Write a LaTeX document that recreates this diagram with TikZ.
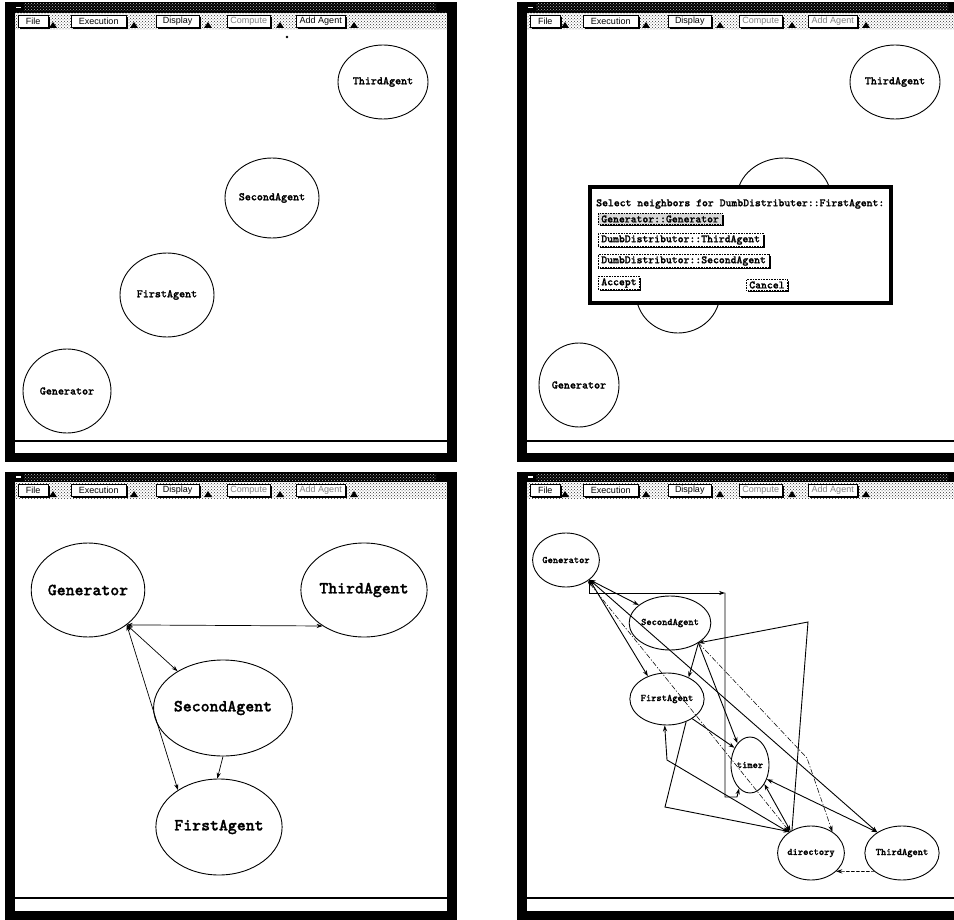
\documentclass[tikz,border=0pt]{standalone}
\usepackage{fontspec}
\setmainfont{Liberation Sans}
\newfontfamily\agentfont{lmmonolt10-bold.otf}[FakeBold=1.2]
\usetikzlibrary{patterns,arrows.meta,shapes.geometric,shadows}

\tikzset{
  >={Stealth[length=6pt,width=4.2pt]},
  agentnode/.style 2 args={draw, ellipse, line width=0.9pt, inner sep=0pt,
    minimum width=#1pt, minimum height=#2pt},
  link/.style={line width=0.7pt},
  heavylink/.style={line width=0.9pt},
  dashdot/.style={line width=0.55pt, dash pattern=on 5pt off 2pt on 1pt off 2pt},
  mbtn/.style={draw, line width=0.5pt, fill=white, inner sep=0pt, anchor=west,
    font=\fontsize{9}{10}\selectfont,
    drop shadow={shadow xshift=1.6pt, shadow yshift=-1.6pt, fill=black, opacity=1}},
  dbtn/.style={draw, densely dotted, line width=0.6pt, fill=white, anchor=west,
    inner xsep=3pt, inner ysep=2pt, font=\agentfont\fontsize{11.2}{12}\selectfont,
    drop shadow={shadow xshift=1.6pt, shadow yshift=-1.6pt, fill=black, opacity=1}},
}

% application window: #1 x offset, #2 frame top, #3 menu top, #4 canvas top,
% #5 status rule, #6 frame bottom, #7 colour of "Add Agent", #8 name prefix
\newcommand\guiwindow[8]{%
  \fill[black] (#1+5,#2) rectangle (#1+457,#6);
  \fill[pattern=crosshatch dots, pattern color=gray!55] (#1+24,#2+2) rectangle (#1+436,#3-2);
  \draw[white, line width=1.2pt] (#1+16,{(#2+#3)/2}) -- (#1+21,{(#2+#3)/2});
  \fill[white] (#1+15,#3) rectangle (#1+447,#4);
  \fill[pattern=crosshatch dots, pattern color=black!80] (#1+15,#3) rectangle (#1+447,#4);
  \fill[white] (#1+15,#4) rectangle (#1+447,#6-9);
  \draw[line width=1.1pt] (#1+15,#5) -- (#1+447,#5);
  \foreach \ix/\w/\lab/\col/\nm in {13/30/File/black/file, 66/55/Execution/black/exec,
      151/43/Display/black/disp, 222/43/Compute/gray/comp, 291/49/Add Agent/#7/add}{
    \node[mbtn, minimum width=\w pt, minimum height={(#4-#3-5)*1pt}, text=\col]
      (#8\nm) at (#1+5+\ix,{(#3+#4)/2}) {\lab};
  }
  \foreach \ix in {48,129,203,275,349}{
    \fill (#1+5+\ix-4,#4-2) -- (#1+5+\ix,#4-8) -- (#1+5+\ix+4,#4-2) -- cycle;
  }
}

\begin{document}
\begin{tikzpicture}[x=1pt,y=-1pt]
\useasboundingbox (0,0) rectangle (954,920);
\fill[white] (0,0) rectangle (954,920);

% ---------- four windows ----------
\guiwindow{0}{2}{13}{30}{441}{462}{black}{wa}
\guiwindow{512}{2}{13}{30}{441}{462}{gray}{wb}
\guiwindow{0}{472}{482}{499}{898}{920}{gray}{wc}
\guiwindow{512}{472}{482}{499}{898}{920}{gray}{wd}

% ---------- window A: agents placed ----------
\begin{scope}[every node/.append style={font=\agentfont\fontsize{11.5}{12}\selectfont}]
  \node[agentnode={90}{74}] (thiA) at (383,82) {ThirdAgent};
  \node[agentnode={94}{80}] (secA) at (272,198) {SecondAgent};
  \node[agentnode={94}{84}] (firA) at (167,295) {FirstAgent};
  \node[agentnode={88}{84}] (genA) at (67,391) {Generator};
\end{scope}
\fill (287,37) circle (1.4);

% ---------- window B: neighbour selection (dialog covers two agents) ----------
\begin{scope}[every node/.append style={font=\agentfont\fontsize{11.5}{12}\selectfont}]
  \node[agentnode={90}{74}] (thiB) at (895,82) {ThirdAgent};
  \node[agentnode={94}{80}] (secB) at (784,198) {};
  \node[agentnode={84}{80}] (firB) at (678,293) {};
  \node[agentnode={80}{84}] (genB) at (579,385) {Generator};
\end{scope}
\draw[line width=3.5pt, fill=white] (590,187) rectangle (891,303);
\node[anchor=west, inner sep=0pt, font=\agentfont\fontsize{11.2}{12}\selectfont]
  (dlgtitle) at (596,204) {Select neighbors for DumbDistributer::FirstAgent:};
\node[dbtn, fill=gray!30] (nbgen) at (598,219) {Generator::Generator};
\node[dbtn] (nbthird) at (598,240) {DumbDistributor::ThirdAgent};
\node[dbtn] (nbsecond) at (598,261) {DumbDistributor::SecondAgent};
\node[dbtn] (accept) at (598,283) {Accept};
\node[dbtn] (cancel) at (746,285) {Cancel};

% ---------- window C: first links ----------
\begin{scope}[every node/.append style={font=\agentfont\fontsize{17}{18}\selectfont}]
  \node[agentnode={104}{94}] (genC) at (88,590) {Generator};
  \node[agentnode={114}{94}] (thiC) at (364,590) {ThirdAgent};
  \node[agentnode={122}{96}] (secC) at (223,708) {SecondAgent};
  \node[agentnode={114}{96}] (firC) at (219,827) {FirstAgent};
\end{scope}
\draw[link,<->] (genC.-42) -- (thiC.-139);
\draw[link,<->] (genC.-42) -- (secC.141);
\draw[link,<->] (genC.-42) -- (firC.138);
\draw[link,->] (secC.-90) -- (firC.92);

% ---------- window D: full neighbourhood graph ----------
\begin{scope}[every node/.append style={font=\agentfont\fontsize{10}{11}\selectfont}]
  \node[agentnode={62}{54}] (genD) at (566,560) {Generator};
  \node[agentnode={74}{54}] (secD) at (670,623) {SecondAgent};
  \node[agentnode={68}{52}] (firD) at (667,699) {FirstAgent};
  \node[agentnode={38}{56}] (timD) at (750,765) {timer};
  \node[agentnode={62}{54}] (dirD) at (811,853) {directory};
  \node[agentnode={68}{54}] (thiD) at (902,853) {ThirdAgent};
\end{scope}
\coordinate (bendA) at (725,593);
\coordinate (bendB) at (725,797);
\coordinate (bendC) at (737,797);
\coordinate (bendP) at (808,622);
\coordinate (bendD) at (807,758);
\coordinate (bendE) at (665,807);
\coordinate (bendF) at (667,760);

\begin{scope}[every path/.append style={line cap=round}]
\draw[heavylink,<->] (genD.-40) -- (secD.150);
\draw[heavylink,<->] (genD.-40) -- (firD.130);
\draw[heavylink,<->] (genD.-40) -- (thiD.140);
\draw[dashdot,<->] (genD.-44) -- (dirD.135);
\draw[heavylink,->] (genD.-40) |- (bendA);
\draw[heavylink,->] (bendA) -- (bendB) -- (bendC) -- (timD.-115);
\draw[heavylink,->] (dirD.130) -- (bendP) -- (secD.-35);
\draw[heavylink,->] (secD.-35) -- (firD.45);
\draw[heavylink,->] (secD.-35) -- (timD.120);
\draw[dashdot,->] (secD.-35) -- (bendD) -- (dirD.45);
\draw[heavylink,->] (firD.-38) -- (timD.132);
\draw[heavylink,->] (firD.-50) -- (bendE) -- (dirD.135);
\draw[heavylink,<->] (firD.-95) -- (bendF) -- (dirD.137);
\draw[heavylink,<->] (timD.-53) -- (dirD.133);
\draw[heavylink,<->] (timD.-40) -- (thiD.140);
\draw[link,densely dashed,->] (thiD.-146) -- (dirD.-36);
\end{scope}
\end{tikzpicture}
\end{document}
